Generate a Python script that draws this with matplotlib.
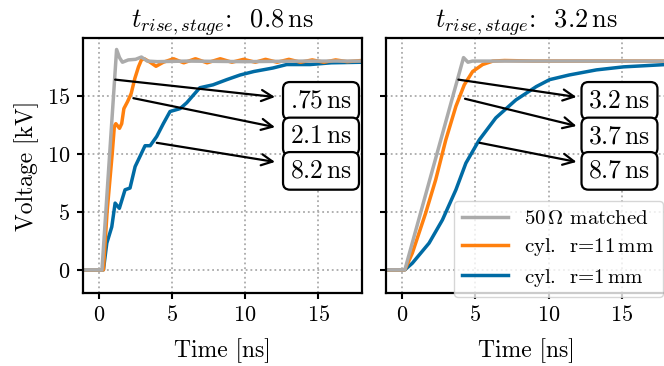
# Rise time comparison, two stage rise times

import matplotlib
matplotlib.use('Agg')
import matplotlib.pyplot as plt

plt.rcParams['font.family'] = 'serif'
plt.rcParams['font.serif'] = ['cmr10']
plt.rcParams['mathtext.fontset'] = 'cm'
plt.rcParams['axes.formatter.use_mathtext'] = True
plt.rcParams['axes.unicode_minus'] = False
plt.rcParams['font.size'] = 16

GRAY = '#ababab'
ORANGE = '#ff800e'
BLUE = '#006ba4'

# --- 0.8 ns stage rise time ---
t_matched_a = [-1.1, 0.2, 1.2, 1.4, 1.6, 2.0, 2.5, 2.9, 3.3, 4.0, 6.0, 10.0, 14.0, 18.0]
v_matched_a = [0.0, 0.0, 19.0, 18.3, 17.9, 18.1, 18.15, 18.35, 18.0, 17.95, 18.0, 17.95, 18.0, 18.0]

t_r11_a = [-1.1, 0.3, 0.55, 0.9, 1.05, 1.15, 1.4, 1.55, 1.7, 1.95, 2.2, 2.45, 2.7, 2.9, 3.1,
           3.5, 3.9, 4.4, 5.1, 5.8, 6.6, 7.4, 8.3, 9.1, 9.9, 10.7, 11.4, 12.2, 13.0, 13.8,
           14.6, 15.4, 16.2, 17.0, 18.0]
v_r11_a = [0.0, 0.0, 5.0, 10.0, 12.4, 12.6, 12.2, 12.6, 13.9, 14.5, 15.2, 16.5, 17.5, 18.1, 18.2,
           17.9, 17.55, 17.9, 18.2, 17.85, 18.2, 17.85, 18.2, 17.9, 18.15, 17.9, 18.15, 17.9, 18.15, 17.9,
           18.1, 17.9, 18.1, 17.95, 18.05]

t_r1_a = [-1.1, 0.3, 0.53, 0.87, 1.1, 1.39, 1.78, 2.12, 2.47, 2.8, 3.15, 3.5, 3.95, 4.4, 4.86,
          5.55, 6.0, 6.9, 7.8, 8.75, 9.66, 10.6, 11.9, 12.85, 14.45, 15.9, 18.0]
v_r1_a = [0.0, 0.0, 2.3, 3.7, 5.75, 5.3, 6.9, 7.05, 8.9, 9.77, 10.7, 10.7, 11.5, 12.6, 13.65,
          13.9, 14.4, 15.7, 15.95, 16.4, 16.8, 17.1, 17.4, 17.7, 17.7, 17.85, 17.9]

# --- 3.2 ns stage rise time ---
t_matched_b = [-1.1, 0.2, 4.2, 4.5, 4.8, 6.0, 10.0, 14.0, 18.0]
v_matched_b = [0.0, 0.0, 18.3, 17.9, 18.0, 18.0, 18.0, 18.0, 18.0]

t_r11_b = [-1.1, 0.2, 0.71, 1.62, 2.3, 2.99, 3.68, 4.25, 4.82, 5.5, 6.2, 7.0, 9.0, 12.0, 15.0, 18.0]
v_r11_b = [0.0, 0.0, 1.44, 4.9, 7.76, 11.2, 14.1, 15.95, 17.1, 17.7, 18.0, 18.05, 18.0, 18.0, 18.0, 18.0]

t_r1_b = [-1.1, 0.2, 0.71, 1.85, 2.76, 3.68, 4.36, 5.27, 6.4, 7.77, 9.16, 10.07, 11.4, 13.26, 15.1, 18.0]
v_r1_b = [0.0, 0.0, 0.57, 2.3, 4.3, 6.9, 9.2, 11.2, 13.1, 14.65, 15.8, 16.4, 16.8, 17.24, 17.5, 17.7]

titles = [r'$t_{rise,stage}$:  0.8$\,$ns', r'$t_{rise,stage}$:  3.2$\,$ns']
labels = [r'50$\,\Omega$ matched', r'cyl.  r=11$\,$mm', r'cyl.  r=1$\,$mm']
rise_labels = [[r'.75$\,$ns', r'2.1$\,$ns', r'8.2$\,$ns'],
               [r'3.2$\,$ns', r'3.7$\,$ns', r'8.7$\,$ns']]

# arrow start points on curves, arrow end points and box centres
arrow_starts = [[(1.1, 16.4), (2.35, 14.8), (3.95, 10.95)],
                [(3.85, 16.4), (4.3, 14.75), (5.3, 10.95)]]
arrow_ends = [[(12.05, 14.9), (12.05, 12.3), (12.05, 9.3)],
              [(11.9, 14.9), (11.9, 12.4), (11.9, 9.3)]]
box_x = [15.2, 14.83]
box_y = [14.57, 11.5, 8.53]

curves = [
    [(t_matched_a, v_matched_a), (t_r11_a, v_r11_a), (t_r1_a, v_r1_a)],
    [(t_matched_b, v_matched_b), (t_r11_b, v_r11_b), (t_r1_b, v_r1_b)],
]
colors = [GRAY, ORANGE, BLUE]

fig = plt.figure(figsize=(6.64, 3.66), dpi=100)
ax1 = fig.add_axes([0.125, 0.1995, 0.420, 0.697])
ax2 = fig.add_axes([0.581, 0.1995, 0.422, 0.697], sharey=ax1)

for i, ax in enumerate([ax1, ax2]):
    for (t, v), c, lab in zip(curves[i][::-1], colors[::-1], labels[::-1]):
        ax.plot(t, v, color=c, lw=2.5, label=lab)
    ax.set_xlim(-1.1, 18)
    ax.set_ylim(-2, 20)
    ax.set_xticks([0, 5, 10, 15])
    ax.set_yticks([0, 5, 10, 15])
    ax.grid(True, linestyle=':', color='#aaaaaa', linewidth=1.3)
    ax.set_axisbelow(True)
    ax.set_title(titles[i], fontsize=19, pad=7)
    ax.set_xlabel('Time [ns]', fontsize=17, labelpad=9)
    for sp in ax.spines.values():
        sp.set_linewidth(1.6)
    ax.tick_params(direction='out', length=4, width=1.5, labelsize=16, pad=5)

    for s, e, txt, by in zip(arrow_starts[i], arrow_ends[i], rise_labels[i], box_y):
        ax.annotate('', xy=e, xytext=s,
                    arrowprops=dict(arrowstyle='->', color='black', lw=1.6,
                                    mutation_scale=20, shrinkA=0, shrinkB=0))
        ax.text(box_x[i], by, txt, ha='center', va='center', fontsize=18.5,
                bbox=dict(boxstyle='round,pad=0.27', fc='white', ec='black', lw=1.6))

ax1.set_ylabel('Voltage [kV]', fontsize=17, labelpad=6)
plt.setp(ax2.get_yticklabels(), visible=False)

handles, labs = ax2.get_legend_handles_labels()
ax2.legend(handles[::-1], labs[::-1], loc='lower right', bbox_to_anchor=(0.989, -0.016),
           borderaxespad=0, handlelength=2.2, handletextpad=0.8, fontsize=15,
           labelspacing=0.4)

fig.savefig('out.png', dpi=100)
